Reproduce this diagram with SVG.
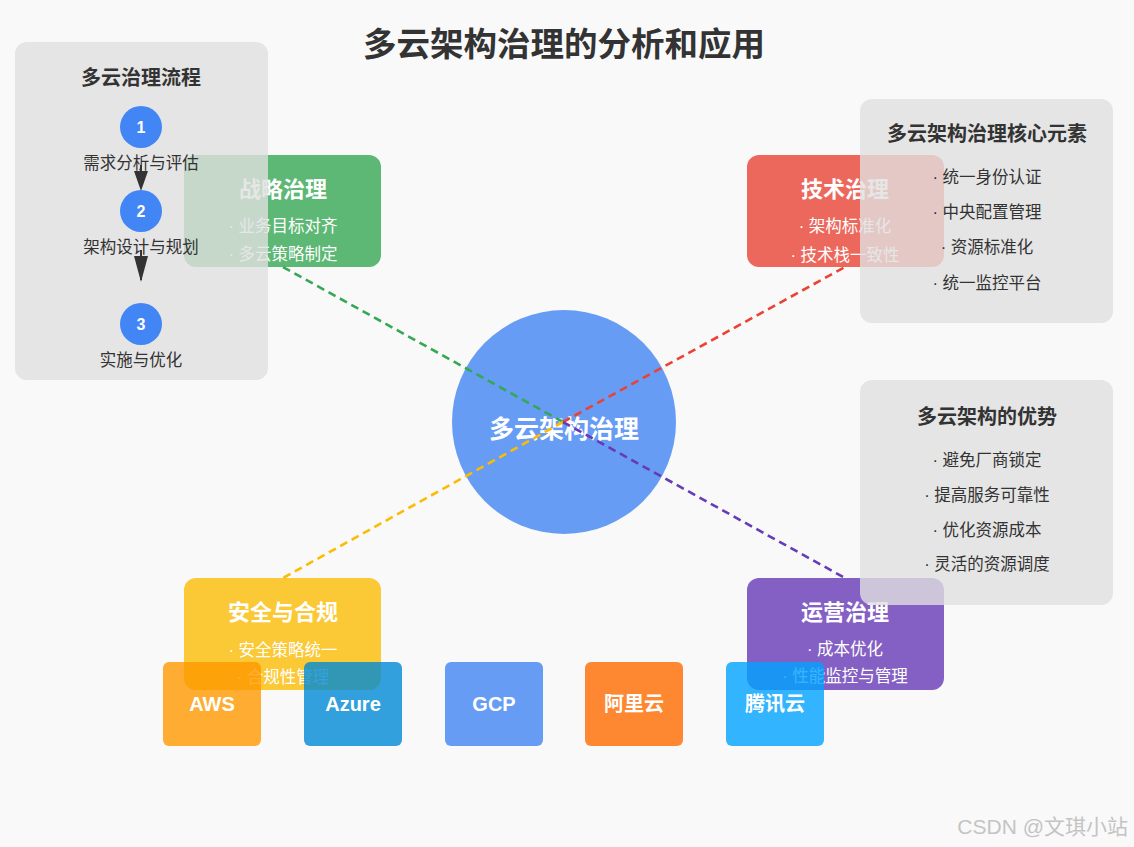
<svg xmlns="http://www.w3.org/2000/svg" width="1134" height="847" viewBox="0 0 1134 847">
<style>
text{font-family:"Liberation Sans","Noto Sans CJK SC",sans-serif;}
.ttl{font-size:33.5px;font-weight:bold;fill:#333;text-anchor:middle;}
.ptitle{font-size:20px;font-weight:bold;fill:#333;text-anchor:middle;}
.pitem{font-size:16.5px;fill:#333;text-anchor:middle;}
.btitle{font-size:22px;font-weight:bold;fill:#fff;text-anchor:middle;}
.bitem{font-size:16.5px;fill:#fff;text-anchor:middle;}
.panel{fill:#e0e0e0;opacity:0.8;}
.box{opacity:0.8;}
.conn{fill:none;stroke-width:2.6;stroke-dasharray:8,5;}
.num{font-size:16px;font-weight:bold;fill:#fff;text-anchor:middle;}
.prov{font-size:20px;font-weight:bold;fill:#fff;text-anchor:middle;}
.step{fill:#4285F4;}
</style>
<rect x="0" y="0" width="1134" height="847" fill="#f9f9f9"/>
<text class="ttl" x="564" y="56">多云架构治理的分析和应用</text>

<g id="center">
<circle cx="564" cy="422" r="112" fill="#4285F4" opacity="0.8"/>
<text x="564" y="438" font-size="25" font-weight="bold" fill="#fff" text-anchor="middle">多云架构治理</text>
</g>

<g id="connectors">
<line class="conn" x1="563" y1="422" x2="283" y2="267" stroke="#34A853"/>
<line class="conn" x1="563" y1="422" x2="845" y2="267" stroke="#EA4335"/>
<line class="conn" x1="563" y1="422" x2="283" y2="578" stroke="#FBBC05"/>
<line class="conn" x1="563" y1="422" x2="845" y2="578" stroke="#673AB7"/>
</g>

<g id="strategy">
<rect class="box" x="184" y="155" width="197" height="112" rx="12" fill="#34A853"/>
<text class="btitle" x="283" y="197">战略治理</text>
<text class="bitem" x="283" y="232">· 业务目标对齐</text>
<text class="bitem" x="283" y="260">· 多云策略制定</text>
</g>

<g id="technical">
<rect class="box" x="747" y="155" width="197" height="112" rx="12" fill="#EA4335"/>
<text class="btitle" x="845" y="197">技术治理</text>
<text class="bitem" x="845" y="232">· 架构标准化</text>
<text class="bitem" x="845" y="261">· 技术栈一致性</text>
</g>

<g id="security">
<rect class="box" x="184" y="578" width="197" height="112" rx="12" fill="#FBBC05"/>
<text class="btitle" x="283" y="620">安全与合规</text>
<text class="bitem" x="283" y="656">· 安全策略统一</text>
<text class="bitem" x="283" y="683">· 合规性管理</text>
</g>

<g id="operations">
<rect class="box" x="747" y="578" width="197" height="112" rx="12" fill="#673AB7"/>
<text class="btitle" x="845" y="620">运营治理</text>
<text class="bitem" x="845" y="655">· 成本优化</text>
<text class="bitem" x="845" y="682">· 性能监控与管理</text>
</g>

<g id="process-panel">
<rect class="panel" x="15" y="42" width="253" height="338" rx="12"/>
<text class="ptitle" x="141" y="85">多云治理流程</text>
<circle class="step" cx="141" cy="127" r="21"/>
<text class="num" x="141" y="133">1</text>
<text class="pitem" x="141" y="169">需求分析与评估</text>
<polygon points="134,171 148,171 141,191" fill="#333"/>
<line x1="141" y1="165" x2="141" y2="185" stroke="#333" stroke-width="2"/>
<circle class="step" cx="141" cy="211" r="21"/>
<text class="num" x="141" y="217">2</text>
<text class="pitem" x="141" y="253">架构设计与规划</text>
<polygon points="134,256 148,256 141,282" fill="#333"/>
<line x1="141" y1="250" x2="141" y2="280" stroke="#333" stroke-width="2"/>
<circle class="step" cx="141" cy="324" r="21"/>
<text class="num" x="141" y="330">3</text>
<text class="pitem" x="141" y="366">实施与优化</text>
</g>

<g id="core-panel">
<rect class="panel" x="860" y="99" width="253" height="224" rx="12"/>
<text class="ptitle" x="987" y="141">多云架构治理核心元素</text>
<text class="pitem" x="987" y="183">· 统一身份认证</text>
<text class="pitem" x="987" y="218">· 中央配置管理</text>
<text class="pitem" x="987" y="253">· 资源标准化</text>
<text class="pitem" x="987" y="289">· 统一监控平台</text>
</g>

<g id="advantages-panel">
<rect class="panel" x="860" y="380" width="253" height="225" rx="12"/>
<text class="ptitle" x="987" y="424">多云架构的优势</text>
<text class="pitem" x="987" y="466">· 避免厂商锁定</text>
<text class="pitem" x="987" y="501">· 提高服务可靠性</text>
<text class="pitem" x="987" y="536">· 优化资源成本</text>
<text class="pitem" x="987" y="570">· 灵活的资源调度</text>
</g>

<g id="aws">
<rect class="box" x="163" y="662" width="98" height="84" rx="6" fill="#FF9900"/>
<text class="prov" x="212" y="711">AWS</text>
</g>
<g id="azure">
<rect class="box" x="304" y="662" width="98" height="84" rx="6" fill="#0089D6"/>
<text class="prov" x="353" y="711">Azure</text>
</g>
<g id="gcp">
<rect class="box" x="445" y="662" width="98" height="84" rx="6" fill="#4285F4"/>
<text class="prov" x="494" y="711">GCP</text>
</g>
<g id="alibaba">
<rect class="box" x="585" y="662" width="98" height="84" rx="6" fill="#FF6A00"/>
<text class="prov" x="634" y="711">阿里云</text>
</g>
<g id="tencent">
<rect class="box" x="726" y="662" width="98" height="84" rx="6" fill="#00A3FF"/>
<text class="prov" x="775" y="711">腾讯云</text>
</g>

<text x="1128" y="834" font-size="21" fill="#c4c4c4" text-anchor="end">CSDN @文琪小站</text>
</svg>
